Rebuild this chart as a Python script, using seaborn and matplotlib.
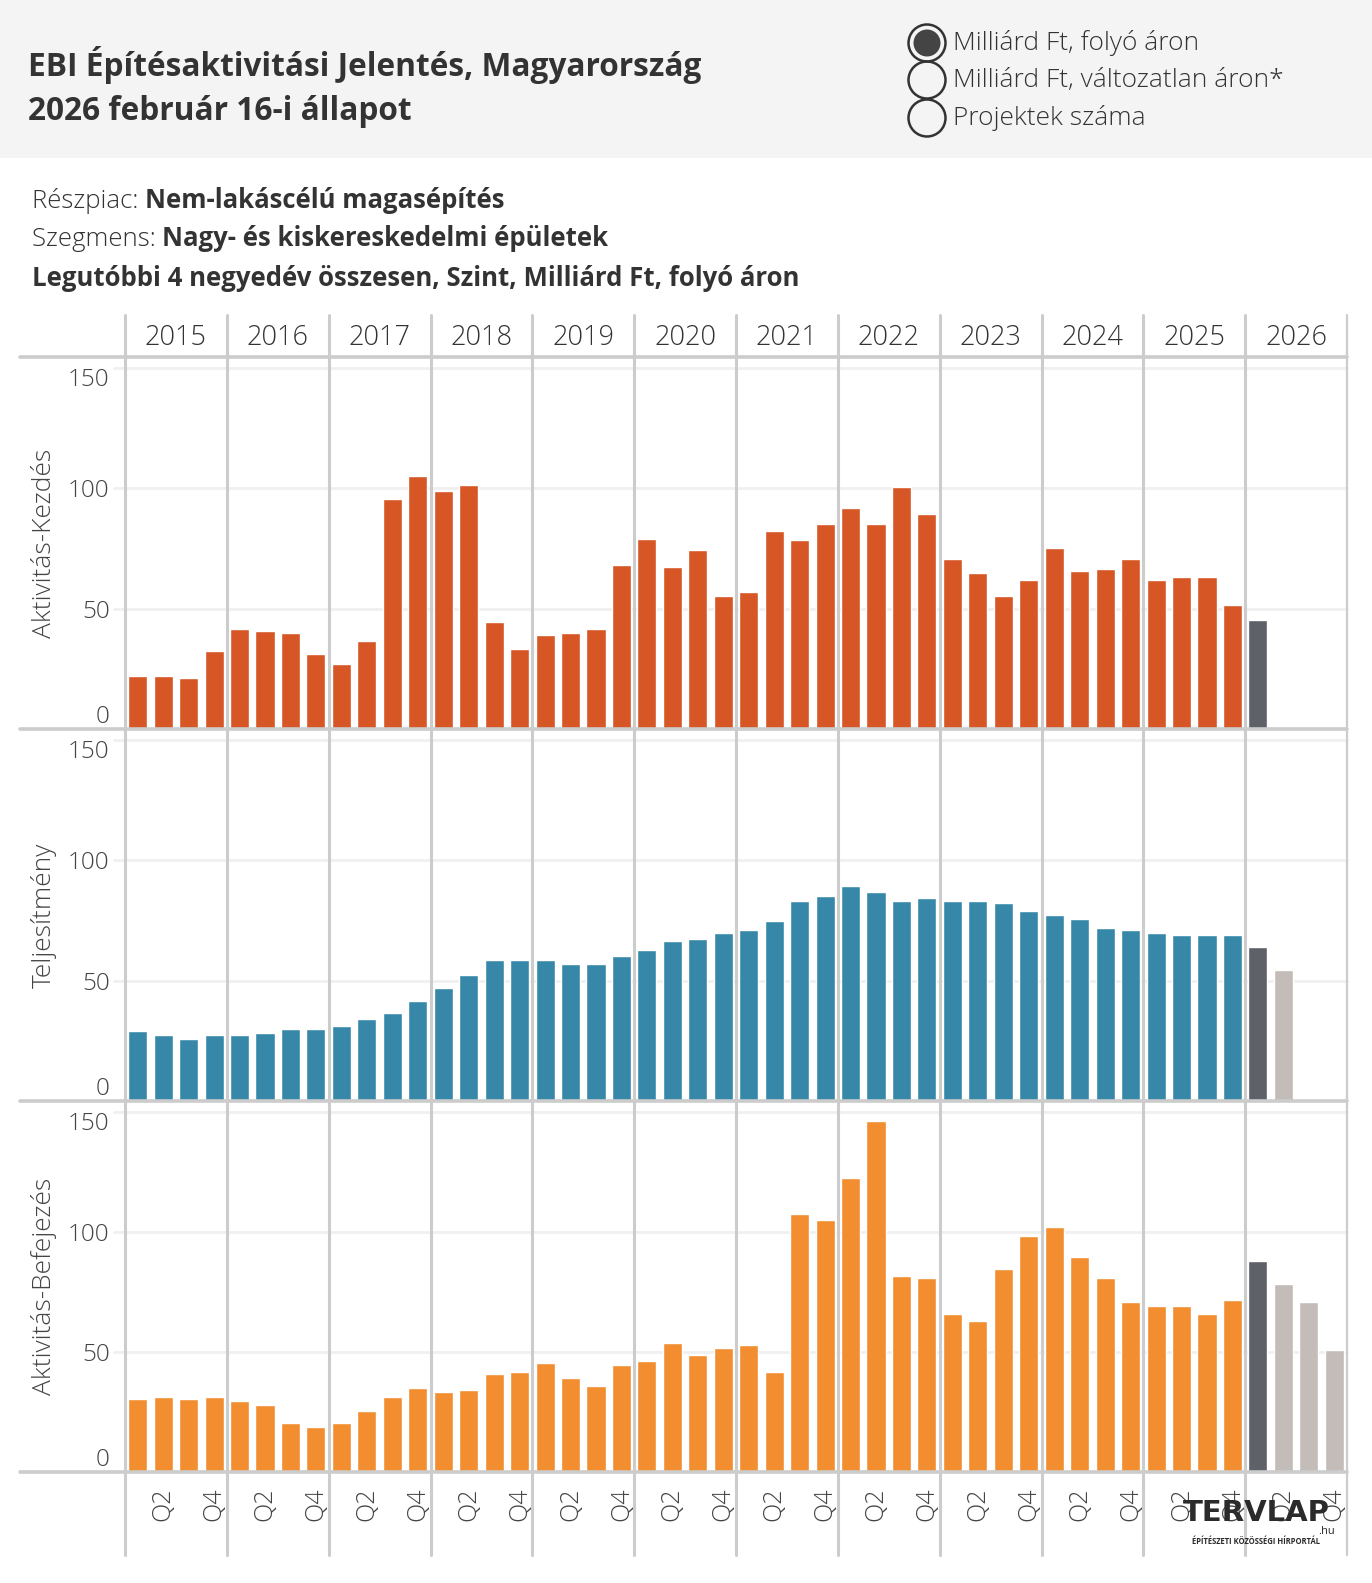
import pandas as pd
import seaborn as sns
import matplotlib.pyplot as plt
from matplotlib.patches import Circle
from matplotlib.transforms import blended_transform_factory

# ---- data -------------------------------------------------------------
years = list(range(2015, 2027))
quarters = [f"{y} Q{q}" for y in years for q in range(1, 5)]

kezdes = [22.1, 22.1, 21.3, 32.4, 41.4, 40.6, 39.8, 31.1, 27.0, 36.5, 95.5, 104.9,
          98.8, 101.2, 44.3, 33.2, 38.9, 39.8, 41.4, 68.0, 79.1, 67.2, 74.2, 55.3,
          57.0, 82.4, 78.3, 85.2, 91.8, 85.2, 100.4, 89.3, 70.5, 64.8, 55.3, 61.9,
          75.0, 65.6, 66.4, 70.5, 61.9, 63.1, 63.1, 51.6, 45.1]
teljesitmeny = [28.9, 27.3, 25.6, 27.3, 27.3, 28.1, 29.7, 29.7, 31.3, 34.2, 36.6, 41.5,
                46.8, 52.5, 58.6, 58.6, 58.6, 57.0, 57.0, 60.2, 62.7, 66.3, 67.2, 69.6,
                71.2, 74.9, 83.0, 85.1, 89.1, 86.7, 83.0, 84.3, 83.0, 83.0, 82.2, 79.0,
                77.3, 75.7, 72.0, 71.2, 69.6, 68.8, 68.8, 68.8, 63.9, 54.5]
befejezes = [30.6, 31.4, 30.6, 31.4, 29.7, 28.1, 20.3, 18.7, 20.3, 25.6, 31.4, 35.1,
             33.4, 34.2, 40.8, 41.6, 45.3, 39.2, 35.9, 44.5, 46.1, 53.9, 48.6, 51.8,
             52.7, 41.6, 107.5, 105.0, 122.6, 146.0, 81.7, 80.9, 65.8, 62.9, 84.6, 98.1,
             102.2, 89.5, 80.9, 70.7, 69.0, 69.0, 65.8, 71.5, 87.9, 78.4, 70.7, 51.0]

panels = [("Aktivitás-Kezdés", kezdes, "#d75626"),
          ("Teljesítmény", teljesitmeny, "#3788a8"),
          ("Aktivitás-Befejezés", befejezes, "#f28e30")]

W, H = 1372, 1583
GRID = "#cccccc"
TXT = "#333333"
AX_TXT = "#444444"

sns.set_theme(style="white")
plt.rcParams["font.family"] = ["Open Sans", "DejaVu Sans"]

fig = plt.figure(figsize=(W / 100, H / 100), dpi=100)
fig.patch.set_facecolor("white")


def px_axes(left, top, width, height):
    return fig.add_axes([left / W, 1 - (top + height) / H, width / W, height / H])


def ftext(x, y, s, **kw):
    return fig.text(x / W, 1 - y / H, s, **kw)


# ---- header band -------------------------------------------------------
hdr = px_axes(0, 0, W, 158)
hdr.set_facecolor("#f4f4f4")
hdr.set_xlim(0, W)
hdr.set_ylim(158, 0)
hdr.set_xticks([])
hdr.set_yticks([])
for s in hdr.spines.values():
    s.set_visible(False)

hdr.text(28, 65, "EBI Építésaktivitási Jelentés, Magyarország", fontsize=22.8,
         fontweight="bold", color=TXT, va="center")
hdr.text(28, 112, "2026 február 16-i állapot", fontsize=22.8,
         fontweight="bold", color=TXT, va="center")

legend_items = ["Milliárd Ft, folyó áron", "Milliárd Ft, változatlan áron*", "Projektek száma"]
for i, (lab, cy) in enumerate(zip(legend_items, [43, 80, 118])):
    hdr.add_patch(Circle((927, cy), 18.5, fill=False, ec="#333333", lw=1.8))
    if i == 0:
        hdr.add_patch(Circle((927, cy), 13.5, fc="#444444", ec="none"))
    hdr.text(953, cy, lab, fontsize=19, fontweight="light", color=TXT, va="center")

# ---- subtitle ----------------------------------------------------------
sub = [("Részpiac: ", "Nem-lakáscélú magasépítés"),
       ("Szegmens: ", "Nagy- és kiskereskedelmi épületek")]
for (a, b), y in zip(sub, [201, 240]):
    t1 = ftext(32, y, a, fontsize=18.5, fontweight="light", color=TXT, va="center")
    plt.annotate(b, xy=(1, 0), xycoords=t1, fontsize=18.5, fontweight="bold",
                 color=TXT, va="bottom", ha="left")
ftext(32, 279, "Legutóbbi 4 negyedév összesen, Szint, Milliárd Ft, folyó áron",
      fontsize=18.5, fontweight="bold", color=TXT, va="center")

# ---- panels ------------------------------------------------------------
tops = [357, 729, 1101]
heights = [372, 372, 371]
axes = []
for (name, vals, col), top, hgt in zip(panels, tops, heights):
    ax = px_axes(125, top, 1222, hgt)
    ax.set_facecolor("none")
    n = len(vals)
    kind = ["hist"] * min(n, 44) + ["now"] * (1 if n > 44 else 0) + ["fcst"] * max(n - 45, 0)
    df = pd.DataFrame({"negyedev": quarters[:n], "ertek": vals, "tipus": kind})
    pal = {"hist": col, "now": "#5f6169", "fcst": "#c4bcb9"}
    sns.barplot(data=df, x="negyedev", y="ertek", hue="tipus", order=quarters,
                hue_order=["hist", "now", "fcst"], palette=pal, dodge=False,
                width=0.75, saturation=1, legend=False, ax=ax, zorder=3)
    ax.set_xlim(-0.5, 47.5)
    ax.set_ylim(0, 154.5)
    for s in ax.spines.values():
        s.set_visible(False)

    ytr = ax.get_yaxis_transform()
    for v in [50, 100, 150]:
        ax.plot([-0.009, 1], [v, v], transform=ytr, clip_on=False,
                color="#f0f0f0", lw=2, zorder=1)

    ax.set_yticks([0, 50, 100, 150])
    ax.set_yticklabels(["0", "50", "100", "150"])
    ax.tick_params(axis="y", length=0, pad=11, labelsize=17.5, labelcolor=AX_TXT)
    for lab in ax.get_yticklabels():
        lab.set_fontweight("light")
    ax.get_yticklabels()[0].set_va("bottom")
    ax.get_yticklabels()[-1].set_va("top")

    ax.set_ylabel(name, fontsize=19, color=AX_TXT, fontweight="light")
    ax.yaxis.set_label_coords(-0.056, 0.5)
    ax.set_xlabel("")

    # top separator line, extends to the left margin
    ax.plot([-0.086, 1.0], [1, 1], transform=ax.transAxes, clip_on=False,
            color=GRID, lw=2.6, zorder=4)
    axes.append(ax)

top_ax, mid_ax, bot_ax = axes
bot_ax.plot([-0.086, 1.0], [0, 0], transform=bot_ax.transAxes, clip_on=False,
            color=GRID, lw=2.6, zorder=4)

# year separators
for ax in axes:
    tr = blended_transform_factory(ax.transData, ax.transAxes)
    y0 = -0.225 if ax is bot_ax else 0
    y1 = 1.113 if ax is top_ax else 1
    for k in range(len(years) + 1):
        x = -0.5 + 4 * k
        lw = 1.6 if k == len(years) else 2.2
        ax.plot([x, x], [y0, y1], transform=tr, clip_on=False, color=GRID, lw=lw, zorder=2)

# year header labels
tr = blended_transform_factory(top_ax.transData, top_ax.transAxes)
for k, yr in enumerate(years):
    top_ax.text(4 * k + 1.5, 1.05, str(yr), transform=tr, ha="center", va="center",
                fontsize=19.5, fontweight="light", color=TXT)

for ax in (top_ax, mid_ax):
    ax.set_xticks([])

q_pos = [i for i, q in enumerate(quarters) if q.endswith("Q2") or q.endswith("Q4")]
bot_ax.set_xticks(q_pos)
bot_ax.set_xticklabels([quarters[i][-2:] for i in q_pos], rotation=90, va="top")
bot_ax.tick_params(axis="x", length=0, pad=11, labelsize=18, labelcolor=AX_TXT)
for lab in bot_ax.get_xticklabels():
    lab.set_fontweight("light")

# ---- logo ----------------------------------------------------------------
ftext(1256, 1513, "TERVLAP", fontsize=21, fontweight="bold",
      family=["DejaVu Sans"], color="#2b2b2b", ha="center", va="center")
ftext(1318, 1531, ".hu", fontsize=8, color="#2b2b2b", ha="left", va="center")
ftext(1256, 1542, "ÉPÍTÉSZETI KÖZÖSSÉGI HÍRPORTÁL", fontsize=5.5, fontweight="bold",
      color="#2b2b2b", ha="center", va="center")

fig.savefig("out.png", dpi=100)
